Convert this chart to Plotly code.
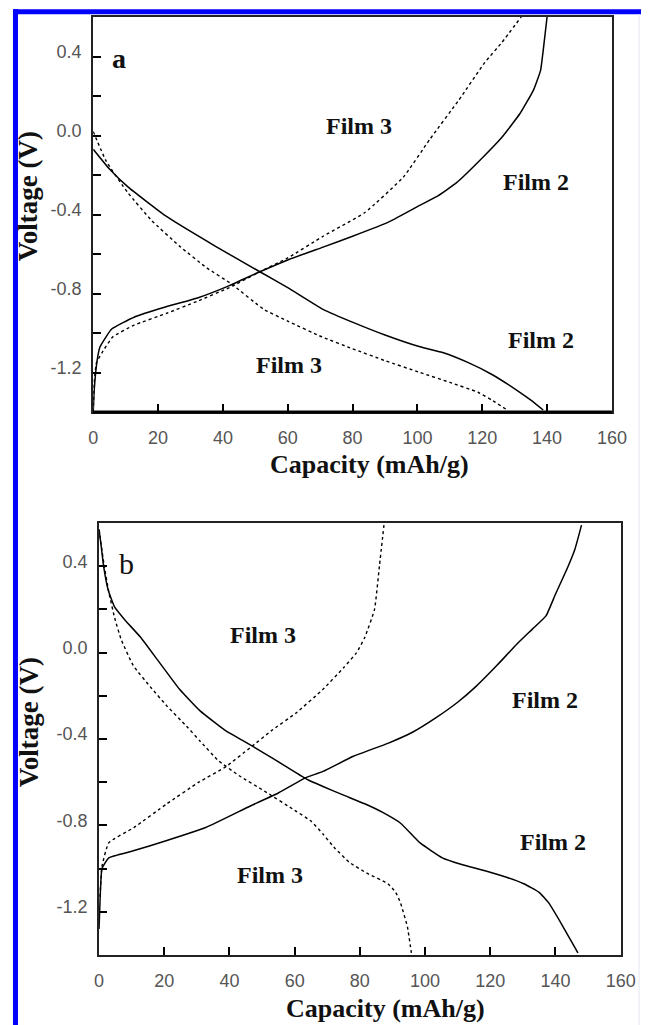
import plotly.graph_objects as go

# ---------------- data ----------------
# Panel a
a_f2_charge_cap = [0, 0.3, 1.2, 2.1, 5.7, 12.6, 22, 32.6, 42, 51.4, 60, 70.9, 80, 90.9, 100, 105.9, 112, 119.6, 126, 131.6, 135.8, 138, 138.8, 140]
a_f2_charge_v = [-1.4, -1.29, -1.14, -1.07, -0.98, -0.92, -0.87, -0.82, -0.76, -0.69, -0.63, -0.565, -0.51, -0.44, -0.36, -0.31, -0.24, -0.12, -0.01, 0.11, 0.23, 0.33, 0.43, 0.6]
a_f3_charge_cap = [0, 0.3, 1, 2.7, 6, 12.6, 22.7, 32, 42, 51.4, 60, 70.9, 83.8, 95.7, 103.8, 112.8, 120.8, 126, 132]
a_f3_charge_v = [-1.4, -1.25, -1.15, -1.1, -1.02, -0.96, -0.9, -0.84, -0.77, -0.69, -0.62, -0.51, -0.39, -0.21, -0.02, 0.18, 0.37, 0.47, 0.6]
a_f2_dis_cap = [0, 5, 10.7, 22.6, 37.6, 51.4, 60, 70.9, 80.7, 90, 100.8, 108, 115.7, 123, 130.7, 135, 138.8]
a_f2_dis_v = [-0.07, -0.17, -0.26, -0.41, -0.56, -0.69, -0.77, -0.88, -0.95, -1.01, -1.07, -1.1, -1.15, -1.21, -1.29, -1.34, -1.39]
a_f3_dis_cap = [0, 4, 10.7, 18, 26.6, 35, 42.5, 52.6, 60, 70.6, 80, 90, 100.8, 110, 118.7, 123, 127.7]
a_f3_dis_v = [0.02, -0.13, -0.29, -0.43, -0.56, -0.67, -0.75, -0.88, -0.94, -1.02, -1.08, -1.14, -1.2, -1.25, -1.3, -1.34, -1.39]

# Panel b
b_f2_dis_cap = [0, 0.6, 1.4, 2.8, 4.8, 8, 12.8, 18, 24.7, 31, 38.7, 44, 50.6, 57, 64.2, 68.7, 75, 81.5, 87, 92.5, 98.4, 105.3, 111, 118.4, 125, 130.3, 135, 138, 142, 146.9]
b_f2_dis_v = [0.57, 0.5, 0.4, 0.29, 0.21, 0.15, 0.07, -0.035, -0.17, -0.27, -0.36, -0.406, -0.465, -0.524, -0.59, -0.62, -0.66, -0.70, -0.74, -0.79, -0.88, -0.95, -0.98, -1.01, -1.04, -1.07, -1.11, -1.16, -1.26, -1.39]
b_f3_dis_cap = [0, 1.5, 3, 4.8, 6.8, 10.5, 15.8, 21, 26.8, 31, 36.6, 43, 50.6, 60, 65, 68.7, 72, 76.7, 82, 88.6, 91, 92.5, 94.6, 95.8]
b_f3_dis_v = [0.57, 0.41, 0.28, 0.16, 0.06, -0.06, -0.16, -0.25, -0.34, -0.41, -0.50, -0.57, -0.64, -0.73, -0.78, -0.84, -0.9, -0.97, -1.02, -1.07, -1.11, -1.16, -1.27, -1.39]
b_f2_charge_cap = [0, 0.3, 0.9, 3, 10, 20.8, 32.7, 46.4, 55, 63.3, 68.7, 78, 88.6, 96, 103.5, 110, 115.4, 122, 128.2, 133, 137.1, 140, 143.9, 146, 148]
b_f2_charge_v = [-1.28, -1.15, -1.0, -0.95, -0.92, -0.87, -0.81, -0.71, -0.65, -0.58, -0.55, -0.48, -0.42, -0.37, -0.30, -0.23, -0.16, -0.06, 0.04, 0.11, 0.17, 0.27, 0.40, 0.48, 0.59]
b_f3_charge_cap = [0.3, 0.9, 3, 10.7, 20.8, 30.6, 38.7, 46.4, 53, 60.4, 68.7, 75, 79, 81.5, 84.5, 86, 87.4]
b_f3_charge_v = [-1.13, -0.99, -0.88, -0.81, -0.70, -0.60, -0.53, -0.44, -0.36, -0.28, -0.17, -0.07, 0.0, 0.07, 0.2, 0.40, 0.59]

x_tickvals = [0, 20, 40, 60, 80, 100, 120, 140, 160]
x_ticktext = ["0", "20", "40", "60", "80", "100", "120", "140", "160"]
y_tickvals = [0.4, 0.0, -0.4, -0.8, -1.2]
y_ticktext = ["0.4", "0.0", "-0.4", "-0.8", "-1.2"]

W, H = 656, 1025


def px(x):
    return x / W


def py(y):
    return 1 - y / H


fig = go.Figure()

solid = dict(color="black", width=1.5, shape="spline", smoothing=0.4)
dot_a = dict(color="black", width=1.4, dash="dot", shape="spline", smoothing=0.4)
dot_b = dict(color="black", width=1.4, dash="3px,3px", shape="spline", smoothing=0.4)

for cap, v, ln, name in [
    (a_f2_charge_cap, a_f2_charge_v, solid, "Film 2 charge"),
    (a_f3_charge_cap, a_f3_charge_v, dot_a, "Film 3 charge"),
    (a_f2_dis_cap, a_f2_dis_v, solid, "Film 2 discharge"),
    (a_f3_dis_cap, a_f3_dis_v, dot_a, "Film 3 discharge"),
]:
    fig.add_trace(go.Scatter(x=cap, y=v, mode="lines", line=ln, name=name,
                             xaxis="x", yaxis="y", showlegend=False))

for cap, v, ln, name in [
    (b_f2_dis_cap, b_f2_dis_v, solid, "Film 2 discharge"),
    (b_f3_dis_cap, b_f3_dis_v, dot_b, "Film 3 discharge"),
    (b_f2_charge_cap, b_f2_charge_v, solid, "Film 2 charge"),
    (b_f3_charge_cap, b_f3_charge_v, dot_b, "Film 3 charge"),
]:
    fig.add_trace(go.Scatter(x=cap, y=v, mode="lines", line=ln, name=name,
                             xaxis="x2", yaxis="y2", showlegend=False))

tickfont = dict(family="Liberation Sans, Arial, sans-serif", size=18, color="#555555")

xcommon = dict(range=[0, 160], tickmode="array", tickvals=x_tickvals, ticktext=x_ticktext,
               ticks="inside", ticklen=8, tickwidth=1.5, tickcolor="black",
               showline=True, linecolor="#222222", linewidth=2, mirror=True,
               showgrid=False, zeroline=False, tickfont=tickfont, ticklabelstandoff=8)
ycommon = dict(range=[-1.4, 0.6], tickmode="array", tickvals=y_tickvals, ticktext=y_ticktext,
               ticks="inside", ticklen=8, tickwidth=1.5, tickcolor="black",
               minor=dict(tickmode="linear", tick0=0, dtick=0.2, ticks="inside", ticklen=8,
                          tickwidth=1.5, tickcolor="black"),
               showline=True, linecolor="#222222", linewidth=2, mirror=True,
               showgrid=False, zeroline=False, tickfont=tickfont, ticklabelstandoff=6,
               ticklabelshift=-5)

fig.update_layout(
    width=W, height=H,
    margin=dict(l=0, r=0, t=0, b=0),
    paper_bgcolor="white", plot_bgcolor="white",
    xaxis=dict(domain=[px(91), px(626)], anchor="y", **xcommon),
    yaxis=dict(domain=[py(412), py(17)], anchor="x", **ycommon),
    xaxis2=dict(domain=[px(97), px(635)], anchor="y2", **xcommon),
    yaxis2=dict(domain=[py(955), py(523)], anchor="x2", **ycommon),
)

serif = "Liberation Serif, Times New Roman, serif"
title_font = dict(family=serif, size=26, color="#111111")
label_font = dict(family=serif, size=24, color="#111111")

annotations = [
    # panel letters
    dict(x=px(118), y=py(58), text="<b>a</b>", font=dict(family=serif, size=28, color="#111111")),
    dict(x=px(125), y=py(563), text="b", font=dict(family=serif, size=30, color="#111111")),
    # film labels panel a
    dict(x=px(365), y=py(126), text="<b>Film 3</b>", font=label_font),
    dict(x=px(548), y=py(182), text="<b>Film 2</b>", font=label_font),
    dict(x=px(553), y=py(340), text="<b>Film 2</b>", font=label_font),
    dict(x=px(293), y=py(365), text="<b>Film 3</b>", font=label_font),
    # film labels panel b
    dict(x=px(266), y=py(635), text="<b>Film 3</b>", font=label_font),
    dict(x=px(557), y=py(700), text="<b>Film 2</b>", font=label_font),
    dict(x=px(565), y=py(842), text="<b>Film 2</b>", font=label_font),
    dict(x=px(273), y=py(875), text="<b>Film 3</b>", font=label_font),
    # axis titles
    dict(x=px(376), y=py(465), text="<b>Capacity (mAh/g)</b>", font=title_font),
    dict(x=px(392), y=py(1008), text="<b>Capacity (mAh/g)</b>", font=title_font),
    dict(x=px(24), y=py(196), text="<b>Voltage (V)</b>", font=dict(family=serif, size=27, color="#111111"), textangle=-90),
    dict(x=px(25), y=py(722), text="<b>Voltage (V)</b>", font=dict(family=serif, size=27, color="#111111"), textangle=-90),
]
for a in annotations:
    a.update(xref="paper", yref="paper", showarrow=False, xanchor="center", yanchor="middle")
fig.update_layout(annotations=annotations)

shapes = [
    # thick bottom axis of panel a
    dict(type="line", xref="x domain", yref="y domain", x0=0, x1=1, y0=0, y1=0,
         line=dict(color="black", width=3)),
    # blue frame
    dict(type="line", xref="paper", yref="paper", x0=px(10.8), x1=px(10.8), y0=0, y1=py(9.3),
         line=dict(color="#0000ff", width=5)),
    dict(type="line", xref="paper", yref="paper", x0=px(8.3), x1=1, y0=py(11.7), y1=py(11.7),
         line=dict(color="#0000ff", width=5)),
    # faint right border
    dict(type="line", xref="paper", yref="paper", x0=px(654), x1=px(654), y0=0, y1=py(14),
         line=dict(color="#e6e6f2", width=1)),
]
fig.update_layout(shapes=shapes)

fig.write_html("out.html")
